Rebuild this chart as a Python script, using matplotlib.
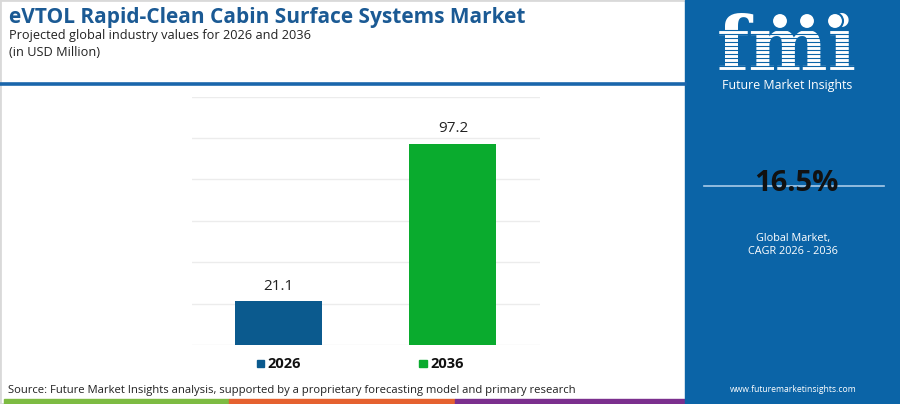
import matplotlib.pyplot as plt
from matplotlib.patches import Rectangle, Ellipse
from matplotlib.lines import Line2D

plt.rcParams['font.family'] = ['Open Sans', 'DejaVu Sans']

years = ["2026", "2036"]
values = [21.1, 97.2]
bar_colors = ["#0b5a8e", "#0aab2e"]
cagr = "16.5%"
title = "eVTOL Rapid-Clean Cabin Surface Systems Market"
subtitle = "Projected global industry values for 2026 and 2036"
unit = "(in USD Million)"
source = "Source: Future Market Insights analysis, supported by a proprietary forecasting model and primary research"

W, H = 900, 404
fig = plt.figure(figsize=(9, 4.04), dpi=100)
fig.patch.set_facecolor("white")


def fx(px):
    return px / W


def fy(py):
    return 1 - py / H


# outer border
fig.patches.append(Rectangle((0, 0), 1, 1, transform=fig.transFigure,
                             fill=False, edgecolor="#d9d9d9", lw=2))

# title block
fig.text(fx(9), fy(18), title, fontsize=15, fontweight="bold", color="#1b5a94",
         va="center", ha="left")
fig.text(fx(9), fy(35), subtitle, fontsize=9.2, color="#222222", va="center")
fig.text(fx(9), fy(53), unit, fontsize=9.2, color="#222222", va="center")

# header rule
fig.add_artist(Line2D([0, fx(685)], [fy(84), fy(84)], transform=fig.transFigure,
                      color="#1a66ab", lw=2.6))

# bar chart
ax = fig.add_axes([fx(191.7), fy(345), fx(540 - 191.7), (345 - 96.5) / H])
x = list(range(len(years)))
bars = ax.bar(x, values, width=0.5, color=bar_colors, zorder=3)
for b, v in zip(bars, values):
    ax.text(b.get_x() + b.get_width() / 2, v + 3.5, f"{v}", ha="center", va="bottom",
            fontsize=11, color="#222222")
ax.set_xlim(-0.5, 1.5)
ax.set_ylim(0, 120)
ax.set_yticks(range(0, 121, 20))
ax.grid(axis="y", color="#ececec", lw=1, zorder=0)
ax.set_xticks([])
ax.tick_params(left=False, labelleft=False)
for s in ax.spines.values():
    s.set_visible(False)

# legend
for (lx, lab, col) in [(256.5, years[0], bar_colors[0]), (419, years[1], bar_colors[1])]:
    fig.patches.append(Rectangle((fx(lx), fy(367)), fx(7.5), 7.5 / H,
                                 transform=fig.transFigure, color=col))
    fig.text(fx(lx + 11), fy(363.5), lab, fontsize=10.5, fontweight="bold",
             color="#111111", va="center", ha="left")

# source
fig.text(fx(8), fy(390), source, fontsize=8.1, color="#222222", va="center")

# bottom colour strip
for x0, x1, col in [(4, 229, "#7dbb42"), (229, 455, "#e5612f"), (455, 685, "#7b2f8e")]:
    fig.patches.append(Rectangle((fx(x0), 0), fx(x1 - x0), 5 / H,
                                 transform=fig.transFigure, color=col))

# right panel
panel = "#0b64a7"
fig.patches.append(Rectangle((fx(685), 0), fx(W - 685), 1, transform=fig.transFigure,
                             color=panel, zorder=1))

# logo
fig.text(fx(787), fy(49), "fmi", fontsize=54, fontweight="bold", color="white",
         family="DejaVu Serif", ha="center", va="center", zorder=2)
for yy in range(30, 76, 4):
    fig.add_artist(Line2D([fx(715), fx(860)], [fy(yy), fy(yy)], transform=fig.transFigure,
                          color=panel, lw=0.8, zorder=3))
for cx in [780, 807, 835]:
    fig.patches.append(Ellipse((fx(cx), fy(21)), 16 / W, 16 / H, transform=fig.transFigure,
                               facecolor="white", edgecolor=panel, lw=1.5, zorder=4))
fig.text(fx(787), fy(86), "Future Market Insights", fontsize=8.9, color="white",
         ha="center", va="center", zorder=4)

# CAGR
fig.add_artist(Line2D([fx(704), fx(884)], [fy(186), fy(186)], transform=fig.transFigure,
                      color="#a9cbe8", lw=1.2, zorder=2))
fig.text(fx(796), fy(184), cagr, fontsize=21, fontweight="bold", color="#111111",
         ha="center", va="center", zorder=4)
fig.text(fx(793), fy(238), "Global Market,", fontsize=7.8, color="white",
         ha="center", va="center", zorder=4)
fig.text(fx(793), fy(251), "CAGR 2026 - 2036", fontsize=7.8, color="white",
         ha="center", va="center", zorder=4)
fig.text(fx(793), fy(389), "www.futuremarketinsights.com", fontsize=6.2, color="white",
         ha="center", va="center", zorder=4)

fig.savefig("out.png", dpi=100)
